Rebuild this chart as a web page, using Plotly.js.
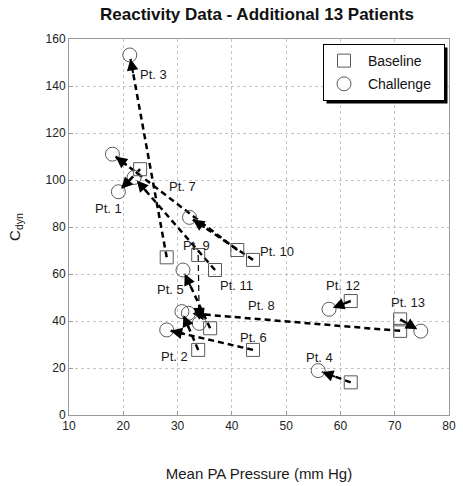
<!DOCTYPE html>
<html>
<head>
<meta charset="utf-8">
<script src="https://cdn.plot.ly/plotly-3.0.1.min.js"></script>
<style>html,body{margin:0;padding:0;background:#fff;}#chart{width:463px;height:486px;}</style>
</head>
<body>
<div id="chart"></div>
<script>
// ---- data ----
const patients   = ['Pt. 1','Pt. 2','Pt. 3','Pt. 4','Pt. 5','Pt. 6','Pt. 7','Pt. 8','Pt. 9','Pt. 10','Pt. 11','Pt. 12','Pt. 13'];
const baselineX  = [23.1, 33.8, 28.0, 61.9, 36.0, 43.9, 41.0, 71.0, 33.8, 43.9, 36.9, 61.9, 71.0];
const baselineY  = [104.6, 27.7, 67.1, 13.9, 36.9, 27.7, 70.2, 35.8, 68.1, 66.0, 61.7, 48.5, 40.7];
const challengeX = [19.1, 30.8, 21.2, 55.9, 31.0, 28.0, 18.0, 32.0, 34.0, 32.2, 22.0, 57.9, 74.8];
const challengeY = [95.0, 44.0, 153.2, 18.9, 61.7, 36.2, 111.0, 43.3, 39.0, 84.1, 101.1, 45.0, 35.7];
// label anchor (data coords) for each patient name
const labelX     = [17.2, 29.5, 25.5, 56.2, 28.7, 43.9, 30.9, 45.5, 33.5, 48.4, 40.9, 60.5, 72.5];
const labelY     = [88.0, 24.8, 144.7, 24.5, 53.5, 33.0, 97.4, 46.4, 72.3, 69.5, 55.3, 54.9, 47.8];
const seriesNames = ['Baseline', 'Challenge'];
const xTicks = [10, 20, 30, 40, 50, 60, 70, 80];
const yTicks = [0, 20, 40, 60, 80, 100, 120, 140, 160];

// ---- layout geometry ----
const W = 463, H = 486;
const M = {l: 69, r: 14, t: 39, b: 71};
const xRange = [10, 80], yRange = [0, 160];
const pxX = (W - M.l - M.r) / (xRange[1] - xRange[0]);
const pxY = (H - M.t - M.b) / (yRange[1] - yRange[0]);
const FONT = 'Liberation Sans, Arial, Helvetica, sans-serif';

const traces = [];
const annotations = [];
const headGap = 4;     // px the arrow tip stops short of the circle centre
const headLen = 16;    // px length of the arrow-head annotation

patients.forEach((p, i) => {
  const bx = baselineX[i], by = baselineY[i], cx = challengeX[i], cy = challengeY[i];
  const dxp = (bx - cx) * pxX, dyp = (by - cy) * pxY;
  const L = Math.sqrt(dxp * dxp + dyp * dyp);
  const fTip = headGap / L, fTail = (headGap + headLen) / L;
  const tipX = cx + (bx - cx) * fTip, tipY = cy + (by - cy) * fTip;
  traces.push({
    x: [bx, tipX], y: [by, tipY], mode: 'lines', type: 'scatter',
    line: {color: '#000', width: p === 'Pt. 9' ? 1.2 : 2.5, dash: '6px,4px'},
    showlegend: false, hoverinfo: 'skip'
  });
  annotations.push({
    x: tipX, y: tipY, xref: 'x', yref: 'y',
    ax: cx + (bx - cx) * fTail, ay: cy + (by - cy) * fTail, axref: 'x', ayref: 'y',
    showarrow: true, arrowhead: 2, arrowsize: 1.15, arrowwidth: 2, arrowcolor: '#000', text: ''
  });
  annotations.push({
    x: labelX[i], y: labelY[i], xref: 'x', yref: 'y', text: p, showarrow: false,
    font: {family: FONT, size: 13, color: '#1a1a1a'}
  });
});

const NB = '\u00a0';
traces.push({
  x: baselineX, y: baselineY, mode: 'markers', type: 'scatter', name: NB + seriesNames[0] + NB + NB,
  legendgroup: 'b',
  marker: {symbol: 'square-open', size: 13, color: '#5a5a5a', line: {width: 1, color: '#5a5a5a'}},
  hoverinfo: 'x+y'
});
traces.push({
  x: challengeX, y: challengeY, mode: 'markers', type: 'scatter', name: NB + seriesNames[1] + NB + NB,
  legendgroup: 'c',
  marker: {symbol: 'circle-open', size: 14, color: '#5a5a5a', line: {width: 1, color: '#5a5a5a'}},
  hoverinfo: 'x+y'
});

// legend placement (pixel) and drop shadow
const lgR = 445, lgT = 44, sh = 3;
const toPX = v => (v - M.l) / (W - M.l - M.r);
const toPY = v => 1 - (v - M.t) / (H - M.t - M.b);

const layout = {
  width: W, height: H,
  margin: M,
  paper_bgcolor: '#fff', plot_bgcolor: '#fff',
  font: {family: FONT, size: 12, color: '#222'},
  title: {text: '<b>Reactivity Data - Additional 13 Patients</b>', x: 0.555, xanchor: 'center', y: 0.972, yanchor: 'middle',
          font: {family: FONT, size: 17, color: '#111'}},
  xaxis: {
    range: xRange, tickvals: xTicks, ticktext: xTicks.map(String),
    showgrid: true, gridcolor: '#c4c4c4', griddash: 'dot', gridwidth: 1,
    zeroline: false, showline: true, linecolor: '#9a9a9a', linewidth: 1, mirror: true,
    ticks: 'inside', ticklen: 4, tickcolor: '#9a9a9a',
    tickfont: {family: FONT, size: 12, color: '#222'},
    title: {text: 'Mean PA Pressure (mm Hg)', standoff: 36, font: {family: FONT, size: 15, color: '#1a1a1a'}}
  },
  yaxis: {
    range: yRange, tickvals: yTicks, ticktext: yTicks.map(String),
    showgrid: true, gridcolor: '#c4c4c4', griddash: 'dot', gridwidth: 1,
    zeroline: false, showline: true, linecolor: '#9a9a9a', linewidth: 1, mirror: true,
    ticks: 'inside', ticklen: 4, tickcolor: '#9a9a9a',
    tickfont: {family: FONT, size: 12, color: '#222'},
    title: {text: 'C<sub>dyn</sub>', standoff: 21, font: {family: FONT, size: 15, color: '#1a1a1a'}}
  },
  legend: {
    x: toPX(lgR), xanchor: 'right', y: toPY(lgT), yanchor: 'top',
    bgcolor: '#fff', bordercolor: '#000', borderwidth: 1,
    font: {family: FONT, size: 14, color: '#111'},
    traceorder: 'grouped', tracegroupgap: 2
  },
  shapes: [{
    type: 'rect', xref: 'paper', yref: 'paper', layer: 'above',
    x0: toPX(325), x1: toPX(lgR + sh), y0: toPY(101), y1: toPY(lgT + sh),
    fillcolor: '#000', line: {width: 0}
  }],
  annotations: annotations,
  showlegend: true
};

Plotly.newPlot('chart', traces, layout, {displayModeBar: false, staticPlot: true}).then(gd => {
  // fit the drop shadow to the legend box Plotly actually drew
  const bg = gd.querySelector('.legend .bg');
  if (!bg) return;
  const r = bg.getBoundingClientRect();
  const c = gd.getBoundingClientRect();
  const L0 = r.left - c.left, T0 = r.top - c.top, R0 = r.right - c.left, B0 = r.bottom - c.top;
  return Plotly.relayout(gd, {
    'shapes[0].x0': toPX(L0 + sh), 'shapes[0].x1': toPX(R0 + sh),
    'shapes[0].y0': toPY(B0 + sh), 'shapes[0].y1': toPY(T0 + sh)
  });
});
</script>
</body>
</html>
